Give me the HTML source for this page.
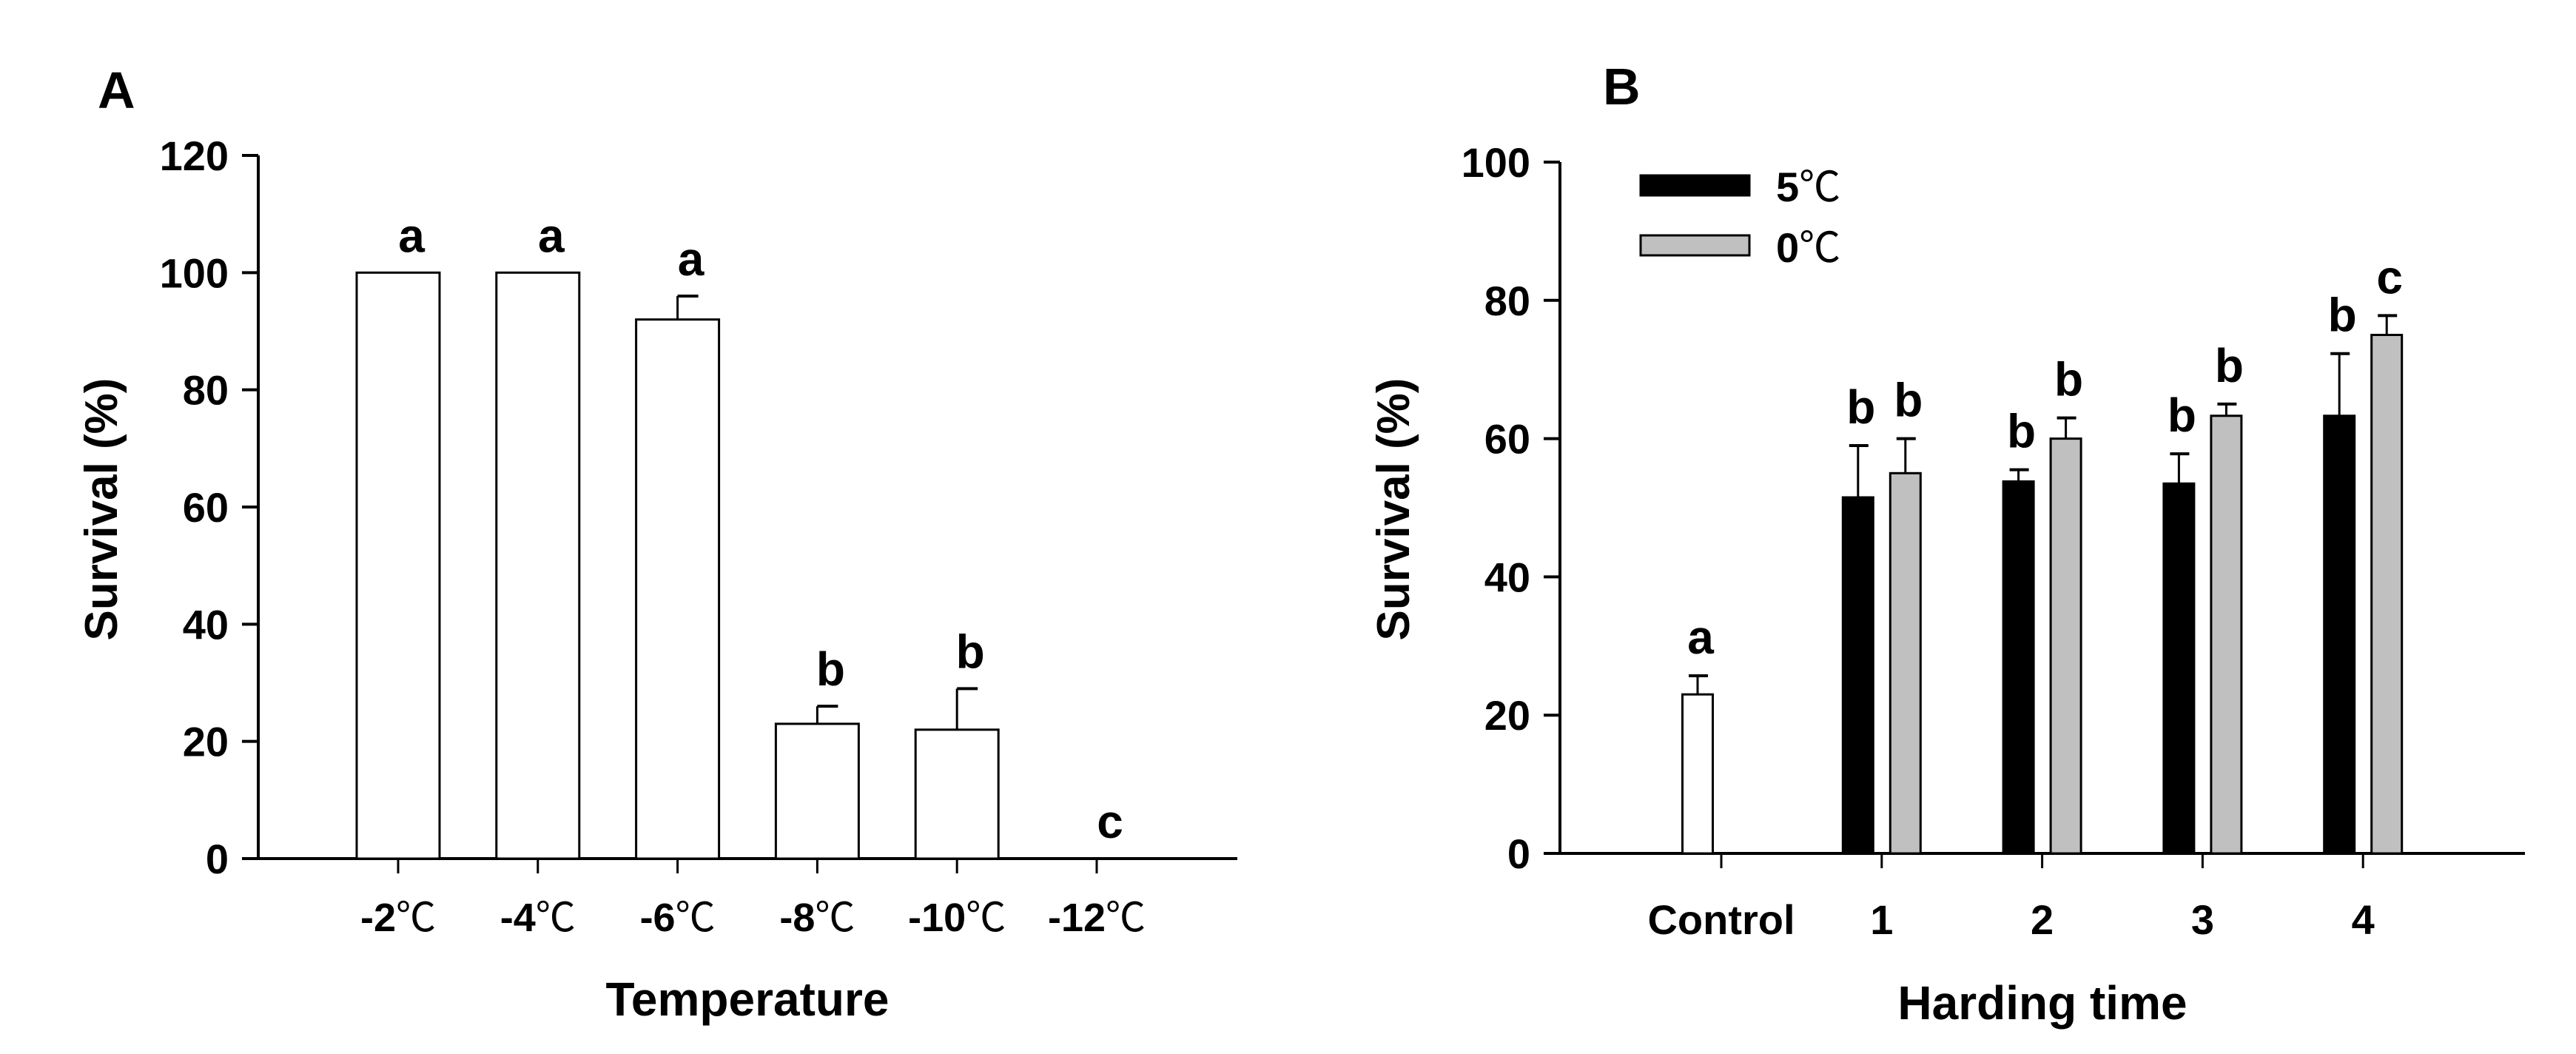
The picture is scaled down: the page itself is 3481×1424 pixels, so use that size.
<!DOCTYPE html>
<html><head><meta charset="utf-8"><style>
html,body{margin:0;padding:0;background:#fff;}
svg{display:block;}
text{font-family:"Liberation Sans","Noto Sans CJK SC",sans-serif;font-weight:bold;fill:#000;}
.deg{font-family:"Noto Sans CJK SC",sans-serif;font-weight:normal;}
</style></head><body>
<svg id="chart" width="3481" height="1424" viewBox="0 0 3481 1424" xmlns="http://www.w3.org/2000/svg">
<g id="panelA"></g>
<g id="panelB"></g>
</svg>
<script>
const NS="http://www.w3.org/2000/svg";
// Panel A data
const catsA=["-2","-4","-6","-8","-10","-12"];
const valsA=[100,100,92,23,22,0];
const errA=[0,0,4,3,7,0];
const letA=["a","a","a","b","b","c"];
const ticksA=[0,20,40,60,80,100,120];
// Panel B data
const catsB=["Control","1","2","3","4"];
const ctrlVal=[23];
const ctrlErr=[2.7];
const vals5=[null,51.5,53.8,53.5,63.3];
const err5=[null,7.5,1.7,4.3,9];
const vals0=[null,55,60,63.3,75];
const err0=[null,5,3,1.7,2.8];
const let5=["a","b","b","b","b"];
const let0=[null,"b","b","b","c"];
const ticksB=[0,20,40,60,80,100];

function mk(p,tag,at,txt){const e=document.createElementNS(NS,tag);for(const k in at)e.setAttribute(k,at[k]);if(txt!==undefined)e.textContent=txt;p.appendChild(e);return e;}
function degText(p,at,num){const t=mk(p,'text',at);t.appendChild(document.createTextNode(num));mk(t,'tspan',{'class':'deg'},'℃');return t;}

// Panel A
(function(){
 const g=document.getElementById('panelA');
 const x0=349,x1=1672,y0=1160,ytop=210,ymax=120;
 const ys=v=>y0-(y0-ytop)*v/ymax;
 const xs=i=>538+i*188.8;
 const bw=112;
 let t=mk(g,'text',{x:132,y:146,'font-size':70},'A');
 
 let l=mk(g,'line',{x1:x0,y1:ytop,x2:x0,y2:y0,stroke:'#000','stroke-width':4});
 
 l=mk(g,'line',{x1:x0-2,y1:y0,x2:x1,y2:y0,stroke:'#000','stroke-width':4});
 
 ticksA.forEach(v=>{
  mk(g,'line',{x1:x0-22,y1:ys(v),x2:x0,y2:ys(v),stroke:'#000','stroke-width':4});
  const tx=mk(g,'text',{x:x0-40,y:ys(v)+20,'font-size':56,'text-anchor':'end'},v);
  
 });
 catsA.forEach((c,i)=>{
  const cx=xs(i);
  mk(g,'line',{x1:cx,y1:y0,x2:cx,y2:y0+20,stroke:'#000','stroke-width':3});
  const tx=degText(g,{x:cx,y:1258,'font-size':54,'text-anchor':'middle'},c);
  
  if(valsA[i]>0){
   const r=mk(g,'rect',{x:cx-bw/2,y:ys(valsA[i]),width:bw,height:y0-ys(valsA[i]),fill:'#fff',stroke:'#000','stroke-width':3});
   
  }
  if(errA[i]>0){
   const yt=ys(valsA[i]+errA[i]);
   mk(g,'line',{x1:cx,y1:ys(valsA[i]),x2:cx,y2:yt,stroke:'#000','stroke-width':3});
   mk(g,'line',{x1:cx,y1:yt,x2:cx+28,y2:yt,stroke:'#000','stroke-width':4});
  }
  const top=ys(valsA[i]+errA[i]);
  const lt=mk(g,'text',{x:cx+18,y:top-28,'font-size':64,'text-anchor':'middle'},letA[i]);
  
 });
 let yt=mk(g,'text',{x:0,y:0,'font-size':62,'text-anchor':'middle',transform:'translate(158,688) rotate(-90)'},'Survival (%)');
 
 let xt=mk(g,'text',{x:1010,y:1372,'font-size':64,'text-anchor':'middle'},'Temperature');
 
})();

// Panel B
(function(){
 const g=document.getElementById('panelB');
 const x0=2108,x1=3412,y0=1153,ytop=219,ymax=100;
 const ys=v=>y0-(y0-ytop)*v/ymax;
 const xs=i=>2326+i*216.8;
 const bw=41,off=32;
 let t=mk(g,'text',{x:2166,y:141,'font-size':70},'B');
 
 let l=mk(g,'line',{x1:x0,y1:ytop,x2:x0,y2:y0,stroke:'#000','stroke-width':4});
 
 l=mk(g,'line',{x1:x0-2,y1:y0,x2:x1,y2:y0,stroke:'#000','stroke-width':4});
 
 ticksB.forEach(v=>{
  mk(g,'line',{x1:x0-22,y1:ys(v),x2:x0,y2:ys(v),stroke:'#000','stroke-width':4});
  const tx=mk(g,'text',{x:x0-40,y:ys(v)+20,'font-size':56,'text-anchor':'end'},v);
  
 });
 function bar(cx,v,e,fill,name,letter){
  const r=mk(g,'rect',{x:cx-bw/2,y:ys(v),width:bw,height:y0-ys(v),fill:fill,stroke:'#000','stroke-width':3});
  
  const yt=ys(v+e);
  mk(g,'line',{x1:cx,y1:ys(v),x2:cx,y2:yt,stroke:'#000','stroke-width':3});
  mk(g,'line',{x1:cx-12,y1:yt,x2:cx+14,y2:yt,stroke:'#000','stroke-width':4});
  const lt=mk(g,'text',{x:cx+4,y:yt-30,'font-size':64,'text-anchor':'middle'},letter);
  
 }
 catsB.forEach((c,i)=>{
  const cx=xs(i);
  mk(g,'line',{x1:cx,y1:y0,x2:cx,y2:y0+20,stroke:'#000','stroke-width':3});
  const tx=mk(g,'text',{x:cx,y:1262,'font-size':56,'text-anchor':'middle'},c);
  
  if(i===0){bar(cx-off,ctrlVal[0],ctrlErr[0],'#fff','bar-control',let5[0]);}
  else{
   bar(cx-off,vals5[i],err5[i],'#000','bar-5c-'+i,let5[i]);
   bar(cx+off,vals0[i],err0[i],'#c0c0c0','bar-0c-'+i,let0[i]);
  }
 });
 let r=mk(g,'rect',{x:2217,y:237,width:147,height:27,fill:'#000',stroke:'#000','stroke-width':3});
 
 r=mk(g,'rect',{x:2217,y:318,width:147,height:27,fill:'#c0c0c0',stroke:'#000','stroke-width':3});
 
 let lt=degText(g,{x:2400,y:272,'font-size':56},'5');
 
 lt=degText(g,{x:2400,y:354,'font-size':56},'0');
 
 let yt=mk(g,'text',{x:0,y:0,'font-size':62,'text-anchor':'middle',transform:'translate(1904,688) rotate(-90)'},'Survival (%)');
 
 let xt=mk(g,'text',{x:2760,y:1377,'font-size':64,'text-anchor':'middle'},'Harding time');
 
})();
</script>
</body></html>
